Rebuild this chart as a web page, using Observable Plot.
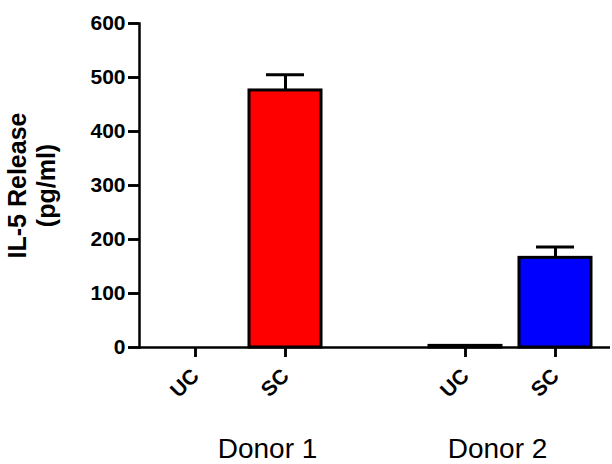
<!DOCTYPE html>
<html>
<head>
<meta charset="utf-8">
<script src="https://cdn.jsdelivr.net/npm/d3@7"></script>
<script src="https://cdn.jsdelivr.net/npm/@observablehq/plot@0.6"></script>
<style>
  html, body { margin: 0; padding: 0; background: white; }
  svg { display: block; }
</style>
</head>
<body>
<div id="chart"></div>
<script>
// Data
const categories = ["D1-UC", "D1-SC", "gap", "D2-UC", "D2-SC"];
const barCats = ["D1-UC", "D1-SC", "D2-UC", "D2-SC"];
const tickLabels = ["UC", "SC", "UC", "SC"];
const values = [0, 476, 3, 166];
const errors = [0, 29, 0, 20];
const fills = ["white", "red", "white", "blue"];
const yTicks = [0, 100, 200, 300, 400, 500, 600];
const groupLabels = ["Donor 1", "Donor 2"];
const yTitle = "IL-5 Release\n(pg/ml)";

const data = barCats.map((c, i) => ({cat: c, value: values[i], err: errors[i], fill: fills[i]}));
const labelOf = new Map(barCats.map((c, i) => [c, tickLabels[i]]));

const W = 612, H = 464, mL = 139, mR = 2, mT = 23, mB = 117;
const plotW = W - mL - mR, plotH = H - mT - mB;

const chart = Plot.plot({
  width: W,
  height: H,
  marginLeft: mL,
  marginRight: mR,
  marginTop: mT,
  marginBottom: mB,
  x: {domain: categories, paddingInner: 0.2, paddingOuter: 0.19},
  y: {domain: [0, 600]},
  color: {type: "identity"},
  style: {fontFamily: "'Liberation Sans', Arial, Helvetica, sans-serif", background: "white", color: "black"},
  marks: [
    Plot.barY(data.filter(d => d.value > 0), {x: "cat", y: "value", fill: "fill", stroke: "black", strokeWidth: 3}),
    Plot.ruleX(data.filter(d => d.err > 0), {x: "cat", y1: "value", y2: d => d.value + d.err, stroke: "black", strokeWidth: 3}),
    Plot.tickY(data.filter(d => d.err > 0), {x: "cat", y: d => d.value + d.err, stroke: "black", strokeWidth: 3, insetLeft: 17, insetRight: 17}),
    Plot.axisY({ticks: yTicks, tickSize: 11, tickPadding: 3, fontSize: 21, fontWeight: "bold", stroke: "black", strokeWidth: 2.5, label: null}),
    Plot.axisX({ticks: barCats, tickFormat: c => labelOf.get(c), tickSize: 10, tickPadding: 15, tickRotate: -45, fontSize: 21, fontWeight: "bold", stroke: "black", strokeWidth: 2.5, label: null}),
    // explicit tick strokes (outside ticks, as in the reference)
    Plot.tickY(yTicks, {y: d => d, stroke: "black", strokeWidth: 2.5, insetLeft: -11, insetRight: plotW}),
    Plot.tickX(barCats, {x: d => d, stroke: "black", strokeWidth: 2.5, insetTop: plotH, insetBottom: -10}),
    Plot.ruleY([0], {stroke: "black", strokeWidth: 2.5}),
    Plot.frame({anchor: "left", stroke: "black", strokeWidth: 2.5}),
    Plot.text([yTitle], {frameAnchor: "left", textAnchor: "middle", lineAnchor: "middle", dx: -108, rotate: -90, fontSize: 25, fontWeight: "bold", lineHeight: 1.15}),
    Plot.text([groupLabels[0]], {x: () => "D1-SC", frameAnchor: "bottom", textAnchor: "middle", lineAnchor: "middle", dx: -18, dy: 102, fontSize: 28}),
    Plot.text([groupLabels[1]], {x: () => "D2-UC", frameAnchor: "bottom", textAnchor: "middle", lineAnchor: "middle", dx: 32, dy: 102, fontSize: 28})
  ]
});
document.getElementById("chart").appendChild(chart);
</script>
</body>
</html>
